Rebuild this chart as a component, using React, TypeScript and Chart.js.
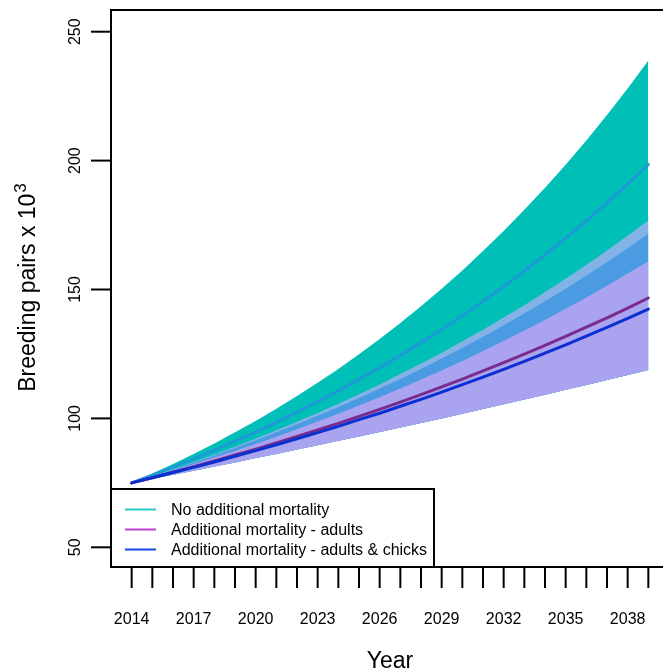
import { useEffect, useRef } from 'react';
import { Chart, registerables } from 'chart.js';

Chart.register(...registerables);

// ---- data ----
const years = [2014, 2015, 2016, 2017, 2018, 2019, 2020, 2021, 2022, 2023, 2024, 2025, 2026,
  2027, 2028, 2029, 2030, 2031, 2032, 2033, 2034, 2035, 2036, 2037, 2038, 2039];

// No additional mortality: mean and band
const noMortMean = [75.0, 78.0, 81.1, 84.3, 87.6, 91.1, 94.7, 98.5, 102.4, 106.5, 110.7, 115.1, 119.7,
  124.4, 129.4, 134.5, 139.8, 145.4, 151.2, 157.2, 163.4, 169.9, 176.6, 183.6, 190.9, 198.5];
const noMortUpper = [75.0, 78.6, 82.3, 86.2, 90.3, 94.6, 99.0, 103.7, 108.7, 113.8, 119.2, 124.9, 130.8,
  137.0, 143.5, 150.3, 157.4, 164.9, 172.7, 180.9, 189.5, 198.4, 207.8, 217.7, 228.0, 238.8];
const noMortLower = [75.0, 77.6, 80.3, 83.1, 86.0, 89.0, 92.1, 95.4, 98.7, 102.1, 105.7, 109.4, 113.2,
  117.2, 121.3, 125.5, 129.9, 134.4, 139.1, 143.9, 149.0, 154.2, 159.5, 165.1, 170.9, 176.8];

// Additional mortality - adults: mean and upper band
const adultsMean = [75.0, 77.0, 79.1, 81.3, 83.5, 85.8, 88.1, 90.5, 93.0, 95.5, 98.1, 100.8, 103.5,
  106.3, 109.2, 112.2, 115.2, 118.4, 121.6, 124.9, 128.3, 131.8, 135.4, 139.0, 142.8, 146.7];
const adultsUpper = [75.0, 77.5, 80.1, 82.8, 85.6, 88.5, 91.5, 94.6, 97.7, 101.0, 104.4, 107.9, 111.6,
  115.3, 119.2, 123.2, 127.4, 131.7, 136.1, 140.7, 145.4, 150.3, 155.4, 160.6, 166.0, 171.6];

// Additional mortality - adults & chicks: mean and band
const chicksMean = [75.0, 77.0, 79.0, 81.0, 83.1, 85.3, 87.5, 89.8, 92.1, 94.5, 96.9, 99.5, 102.0,
  104.7, 107.4, 110.2, 113.1, 116.0, 119.0, 122.1, 125.3, 128.5, 131.9, 135.3, 138.8, 142.4];
const chicksUpper = [75.0, 77.3, 79.7, 82.2, 84.8, 87.4, 90.1, 92.9, 95.8, 98.8, 101.8, 105.0, 108.2,
  111.6, 115.1, 118.6, 122.3, 126.1, 130.0, 134.1, 138.2, 142.5, 146.9, 151.5, 156.2, 161.0];
const chicksLower = [75.0, 76.6, 78.1, 79.7, 81.3, 82.9, 84.6, 86.2, 87.9, 89.6, 91.3, 93.0, 94.7,
  96.5, 98.2, 100.0, 101.8, 103.6, 105.5, 107.3, 109.2, 111.1, 113.0, 114.9, 116.8, 118.8];

const yTicks = [50, 100, 150, 200, 250];
const xLabelYears = [2014, 2017, 2020, 2023, 2026, 2029, 2032, 2035, 2038];

const legendItems = [
  { label: 'No additional mortality', color: '#2cc8c0' },
  { label: 'Additional mortality - adults', color: '#bb3fd3' },
  { label: 'Additional mortality - adults & chicks', color: '#1846e4' },
];

const COLORS = {
  teal: '#00bfb7',
  light: '#83b3e6',
  medium: '#4b9be2',
  lavender: '#aaa3f0',
  noMortLine: '#1c9ad8',
  adultsLine: '#792c8d',
  chicksLine: '#0a30d2',
};

const FONT = '"Liberation Sans", Arial, Helvetica, sans-serif';

const pts = (arr: number[]) => years.map((x, i) => ({ x, y: arr[i] }));

const framePlugin = {
  id: 'rframe',
  afterDraw(chart: any) {
    const { ctx, chartArea: a } = chart;
    const xs = chart.scales.x;
    const ys = chart.scales.y;
    ctx.save();
    ctx.strokeStyle = '#000';
    ctx.fillStyle = '#000';
    ctx.lineWidth = 2;
    ctx.lineCap = 'butt';
    // box
    ctx.strokeRect(a.left, a.top, a.right - a.left, a.bottom - a.top);

    // y axis ticks + labels
    ctx.font = `16px ${FONT}`;
    ctx.textAlign = 'center';
    ctx.textBaseline = 'alphabetic';
    yTicks.forEach((v) => {
      const py = ys.getPixelForValue(v);
      ctx.beginPath();
      ctx.moveTo(a.left - 20, py);
      ctx.lineTo(a.left, py);
      ctx.stroke();
      ctx.save();
      ctx.translate(80, py);
      ctx.rotate(-Math.PI / 2);
      ctx.fillText(String(v), 0, 0);
      ctx.restore();
    });

    // x axis ticks + labels
    years.forEach((yr) => {
      const px = xs.getPixelForValue(yr);
      ctx.beginPath();
      ctx.moveTo(px, a.bottom);
      ctx.lineTo(px, a.bottom + 21);
      ctx.stroke();
    });
    xLabelYears.forEach((yr) => {
      const px = xs.getPixelForValue(yr);
      ctx.fillText(String(yr), px, 624);
    });

    // axis titles
    ctx.font = `23px ${FONT}`;
    ctx.fillText('Year', (a.left + a.right) / 2, 668);

    ctx.save();
    ctx.translate(35, 288);
    ctx.rotate(-Math.PI / 2);
    const main = 'Breeding pairs x 10';
    ctx.font = `23px ${FONT}`;
    const wMain = ctx.measureText(main).width;
    ctx.font = `17px ${FONT}`;
    const wSup = ctx.measureText('3').width;
    const start = -(wMain + wSup) / 2;
    ctx.textAlign = 'left';
    ctx.font = `23px ${FONT}`;
    ctx.fillText(main, start, 0);
    ctx.font = `17px ${FONT}`;
    ctx.fillText('3', start + wMain + 1, -9);
    ctx.restore();

    // legend
    const lx = a.left, ly = 489, lw = 434 - a.left, lh = a.bottom - 489;
    ctx.fillStyle = '#fff';
    ctx.fillRect(lx, ly, lw, lh);
    ctx.strokeStyle = '#000';
    ctx.lineWidth = 2;
    ctx.strokeRect(lx, ly, lw, lh);
    ctx.font = `16px ${FONT}`;
    ctx.textAlign = 'left';
    ctx.textBaseline = 'middle';
    legendItems.forEach((it, i) => {
      const yy = 509.5 + i * 20;
      ctx.strokeStyle = it.color;
      ctx.lineWidth = 2;
      ctx.beginPath();
      ctx.moveTo(125, yy);
      ctx.lineTo(156, yy);
      ctx.stroke();
      ctx.fillStyle = '#000';
      ctx.fillText(it.label, 171, yy + 1);
    });
    ctx.restore();
  },
};

export default function App() {
  const ref = useRef<HTMLCanvasElement | null>(null);

  useEffect(() => {
    if (!ref.current) return;
    const band = (arr: number[], color: string, target: number, order: number) => ({
      data: pts(arr),
      borderWidth: 0,
      pointRadius: 0,
      backgroundColor: color,
      borderColor: 'rgba(0,0,0,0)',
      fill: { target },
      order,
    });
    const line = (arr: number[], color: string, order: number) => ({
      data: pts(arr),
      borderWidth: 3,
      pointRadius: 0,
      borderColor: color,
      borderCapStyle: 'round',
      borderJoinStyle: 'round',
      fill: false,
      order,
    });
    const chart = new Chart(ref.current, {
      type: 'line',
      data: {
        datasets: [
          // 0..4: bands (filled down to chicksLower, index 5)
          band(noMortUpper, COLORS.teal, 5, 10),
          band(noMortLower, COLORS.light, 5, 9),
          band(adultsUpper, COLORS.medium, 5, 8),
          band(chicksUpper, COLORS.lavender, 5, 7),
          { data: pts(chicksLower), borderWidth: 0, pointRadius: 0, fill: false, borderColor: 'rgba(0,0,0,0)', order: 6 },
          { data: pts(chicksLower), borderWidth: 0, pointRadius: 0, fill: false, borderColor: 'rgba(0,0,0,0)', order: 6 },
          line(noMortMean, COLORS.noMortLine, 3),
          line(adultsMean, COLORS.adultsLine, 2),
          line(chicksMean, COLORS.chicksLine, 1),
        ] as any,
      },
      options: {
        animation: false,
        responsive: false,
        devicePixelRatio: 1,
        layout: { padding: { left: 111, right: 11, top: 10, bottom: 105 } },
        scales: {
          x: { type: 'linear', min: 2013, max: 2040, display: false },
          y: { type: 'linear', min: 42.36, max: 258.42, display: false },
        },
        plugins: {
          legend: { display: false },
          tooltip: { enabled: false },
        },
        elements: { line: { tension: 0 } },
      },
      plugins: [framePlugin],
    });
    return () => chart.destroy();
  }, []);

  return (
    <div style={{ position: 'absolute', left: 0, top: 0, width: 663, height: 672, overflow: 'hidden', background: '#fff' }}>
      <canvas ref={ref} width={680} height={672} style={{ width: 680, height: 672, display: 'block' }} />
    </div>
  );
}
